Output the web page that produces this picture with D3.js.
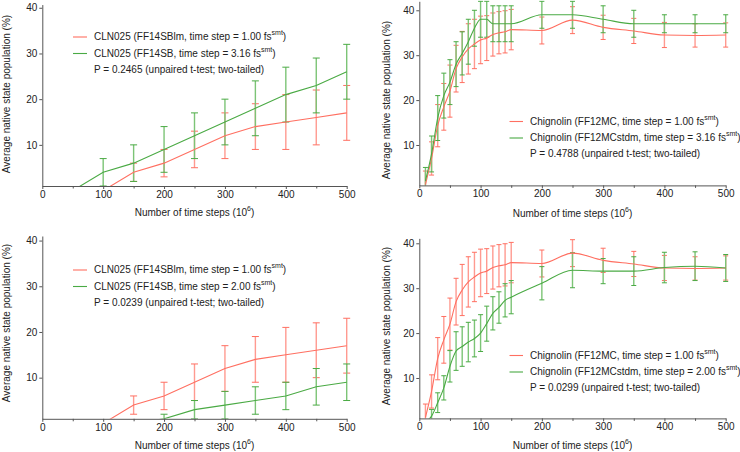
<!DOCTYPE html>
<html><head><meta charset="utf-8">
<script src="https://cdn.jsdelivr.net/npm/d3@7"></script>
<style>body{margin:0;background:#fff}svg{display:block}text{font-family:"Liberation Sans",Arial,sans-serif;fill:#222}</style>
</head><body>
<svg id="c" width="740" height="452"></svg>
<script>
// ---------- data ----------
const xTicks = [0,100,200,300,400,500];
const xMinor = [50,150,250,350,450];
const yTicks = [10,20,30,40];

const clnX = [0,50,100,150,200,250,300,350,400,450,500];
const clnFF14SBlm = [0,0,0,4,6,9,12,14,15,16,17];
const clnFF14SBlmSd = [0,0,0,2,3,4,5,5,6,6,6];
const clnFF14SB316 = [0,0,4,6,9,12,15,18,21,23,26];
const clnFF14SB316Sd = [0,0,3,4,5,5,5,6,6,6,6];
const clnFF14SB200 = [0,0,0,0,1,3,4,5,6,8,9];
const clnFF14SB200Sd = [0,0,0,0,1,2,3,3,3,4,4];

const chiX = [10,20,30,40,50,60,70,80,90,100,110,120,130,140,150,200,250,300,350,400,450,500];
const chiFF12MC = [1.2,7,14.3,18.5,22,27,29.6,31.4,32.5,33.4,33.8,34.6,35,35.2,35.7,35.5,37.8,36.2,35.4,34.5,34.4,34.5];
const chiFF12MCSd = [3,3.7,4.7,5.2,5.8,5.2,5.7,5.6,5.5,5.3,5,4.8,4.7,4.7,4.5,3,3,2.7,2.8,2.8,2.6,2.7];
const chiStdm316 = [2,8,16,21,24,28,30.4,33,36,38,38,37,37,37,37,39,39,38,37,37,37,37];
const chiStdm316Sd = [3,4,5,5,5,5,4.8,5,4,4,4,4,4,4,4,3,3,3,3,2,2,2];
const chiStdm200 = [0.3,1.5,4.5,7.8,12.6,16,17,18,18.8,20,22.1,24.4,25.7,27.3,28,31.1,34,33.8,33.8,34.6,34.9,34.5];
const chiStdm200Sd = [0,1.5,2.2,2.7,3.5,4.3,4.4,4.4,4.1,4.1,3.9,3.7,3.5,3.7,3.7,3.7,3.9,2.8,3.2,3.4,3.2,3];

const RED = "#ff6f61", GREEN = "#4aaa44";
const RED_BAR = "#ff9a90", GREEN_BAR = "#7cc476";

const panels = [
  {L:42.3,R:346.7,B:186,ymax:40.7,ppu:4.57, xs:clnX, smooth:false,
   series:[{v:clnFF14SBlm,sd:clnFF14SBlmSd,c:RED,cb:RED_BAR},{v:clnFF14SB316,sd:clnFF14SB316Sd,c:GREEN,cb:GREEN_BAR}],
   leg:{x1:73,x2:87,tx:94,y:37,labels:["CLN025 (FF14SBlm, time step = 1.00 fs","CLN025 (FF14SB, time step = 3.16 fs"],p:"P = 0.2465 (unpaired t-test; two-tailed)"},
   ytc:[7,94], xty:213},
  {L:419.3,R:725.7,B:185.4,ymax:42,ppu:4.49, xs:chiX, smooth:true,
   series:[{v:chiFF12MC,sd:chiFF12MCSd,c:RED,cb:RED_BAR},{v:chiStdm316,sd:chiStdm316Sd,c:GREEN,cb:GREEN_BAR}],
   leg:{x1:509.5,x2:523,tx:530,y:121.5,labels:["Chignolin (FF12MC, time step = 1.00 fs","Chignolin (FF12MCstdm, time step = 3.16 fs"],p:"P = 0.4788 (unpaired t-test; two-tailed)"},
   ytc:[387,100], xty:214},
  {L:42.3,R:346.7,B:418.8,ymax:41,ppu:4.57, xs:clnX, smooth:false,
   series:[{v:clnFF14SBlm,sd:clnFF14SBlmSd,c:RED,cb:RED_BAR},{v:clnFF14SB200,sd:clnFF14SB200Sd,c:GREEN,cb:GREEN_BAR}],
   leg:{x1:73,x2:87,tx:94,y:270,labels:["CLN025 (FF14SBlm, time step = 1.00 fs","CLN025 (FF14SB, time step = 2.00 fs"],p:"P = 0.0239 (unpaired t-test; two-tailed)"},
   ytc:[7,323], xty:445.5},
  {L:419.3,R:725.7,B:418.4,ymax:41.1,ppu:4.49, xs:chiX, smooth:true,
   series:[{v:chiFF12MC,sd:chiFF12MCSd,c:RED,cb:RED_BAR},{v:chiStdm200,sd:chiStdm200Sd,c:GREEN,cb:GREEN_BAR}],
   leg:{x1:509.5,x2:523,tx:530,y:355.5,labels:["Chignolin (FF12MC, time step = 1.00 fs","Chignolin (FF12MCstdm, time step = 2.00 fs"],p:"P = 0.0299 (unpaired t-test; two-tailed)"},
   ytc:[387,326], xty:446}
];

const svg = d3.select("#c");
const defs = svg.append("defs");

panels.forEach((p,i)=>{
  const T = p.B - (p.ymax-1)*p.ppu;
  const x = d3.scaleLinear().domain([0,500]).range([p.L,p.R]);
  const y = d3.scaleLinear().domain([1,p.ymax]).range([p.B,T]);
  defs.append("clipPath").attr("id","clip"+i).append("rect")
    .attr("x",p.L).attr("y",T-1).attr("width",p.R-p.L+6).attr("height",p.B-T+1);
  const g = svg.append("g");
  const plot = g.append("g").attr("clip-path","url(#clip"+i+")");

  // error bars
  p.series.forEach(s=>{
    const pts = p.xs.map((xv,k)=>({x:xv,v:s.v[k],sd:s.sd[k]})).filter(d=>d.sd>0);
    const cw = p.smooth ? 2.5 : 3.5;
    const eb = plot.append("g");
    eb.selectAll("line.v").data(pts).enter().append("line")
      .attr("x1",d=>x(d.x)).attr("x2",d=>x(d.x))
      .attr("y1",d=>y(d.v-d.sd)).attr("y2",d=>y(d.v+d.sd))
      .attr("stroke",s.cb).attr("stroke-width",1.4);
    ["-","+"].forEach(sg=>{
      eb.selectAll("line.c"+(sg=="+"?"p":"m")).data(pts).enter().append("line")
        .attr("x1",d=>x(d.x)-cw).attr("x2",d=>x(d.x)+cw)
        .attr("y1",d=>y(sg=="+"?d.v+d.sd:d.v-d.sd)).attr("y2",d=>y(sg=="+"?d.v+d.sd:d.v-d.sd))
        .attr("stroke",s.c).attr("stroke-width",1);
    });
  });
  // lines
  p.series.forEach(s=>{
    const line = d3.line().x((d,k)=>x(p.xs[k])).y(d=>y(d))
      .curve(p.smooth? d3.curveMonotoneX : d3.curveLinear);
    plot.append("path").datum(s.v).attr("d",line)
      .attr("fill","none").attr("stroke",s.c).attr("stroke-width",1.1);
  });

  // axes
  g.append("g").attr("transform",`translate(0,${p.B})`)
    .call(d3.axisBottom(x).tickValues(xTicks).tickSize(3).tickSizeOuter(0).tickPadding(2));
  g.append("g").attr("transform",`translate(0,${p.B})`)
    .call(d3.axisBottom(x).tickValues(xMinor).tickSize(2.5).tickSizeOuter(0).tickFormat(""))
    .select(".domain").remove();
  g.append("g").attr("transform",`translate(${p.L},0)`)
    .call(d3.axisLeft(y).tickValues(yTicks).tickSize(3).tickSizeOuter(0).tickPadding(2));
  g.selectAll(".domain").attr("stroke","#555");
  g.selectAll(".tick line").attr("stroke","#555");
  g.selectAll(".tick text").attr("font-size",10).attr("fill","#333")
    .attr("font-family",'"Liberation Sans",Arial,sans-serif');

  // axis titles
  g.append("text").attr("transform",`translate(${p.ytc[0]},${p.ytc[1]}) rotate(-90)`)
    .attr("text-anchor","middle").attr("dominant-baseline","middle").attr("font-size",10)
    .text("Average native state population (%)");
  const xt = g.append("text").attr("x",(p.L+p.R)/2).attr("y",p.xty)
    .attr("text-anchor","middle").attr("dominant-baseline","middle").attr("font-size",10);
  xt.append("tspan").text("Number of time steps (10");
  xt.append("tspan").attr("font-size",7).attr("dy",-4).text("6");
  xt.append("tspan").attr("dy",4).text(")");

  // legend
  const lg = p.leg;
  p.series.forEach((s,k)=>{
    const yy = lg.y + k*16.5;
    g.append("line").attr("x1",lg.x1).attr("x2",lg.x2).attr("y1",yy).attr("y2",yy)
      .attr("stroke",s.c).attr("stroke-width",1.1);
    const t = g.append("text").attr("x",lg.tx).attr("y",yy).attr("dominant-baseline","middle").attr("font-size",10);
    t.append("tspan").text(lg.labels[k]);
    t.append("tspan").attr("font-size",7).attr("dy",-4).text("smt");
    t.append("tspan").attr("dy",4).text(")");
  });
  g.append("text").attr("x",lg.tx).attr("y",lg.y+33).attr("dominant-baseline","middle").attr("font-size",10)
    .text(lg.p);
});
</script>
</body></html>
